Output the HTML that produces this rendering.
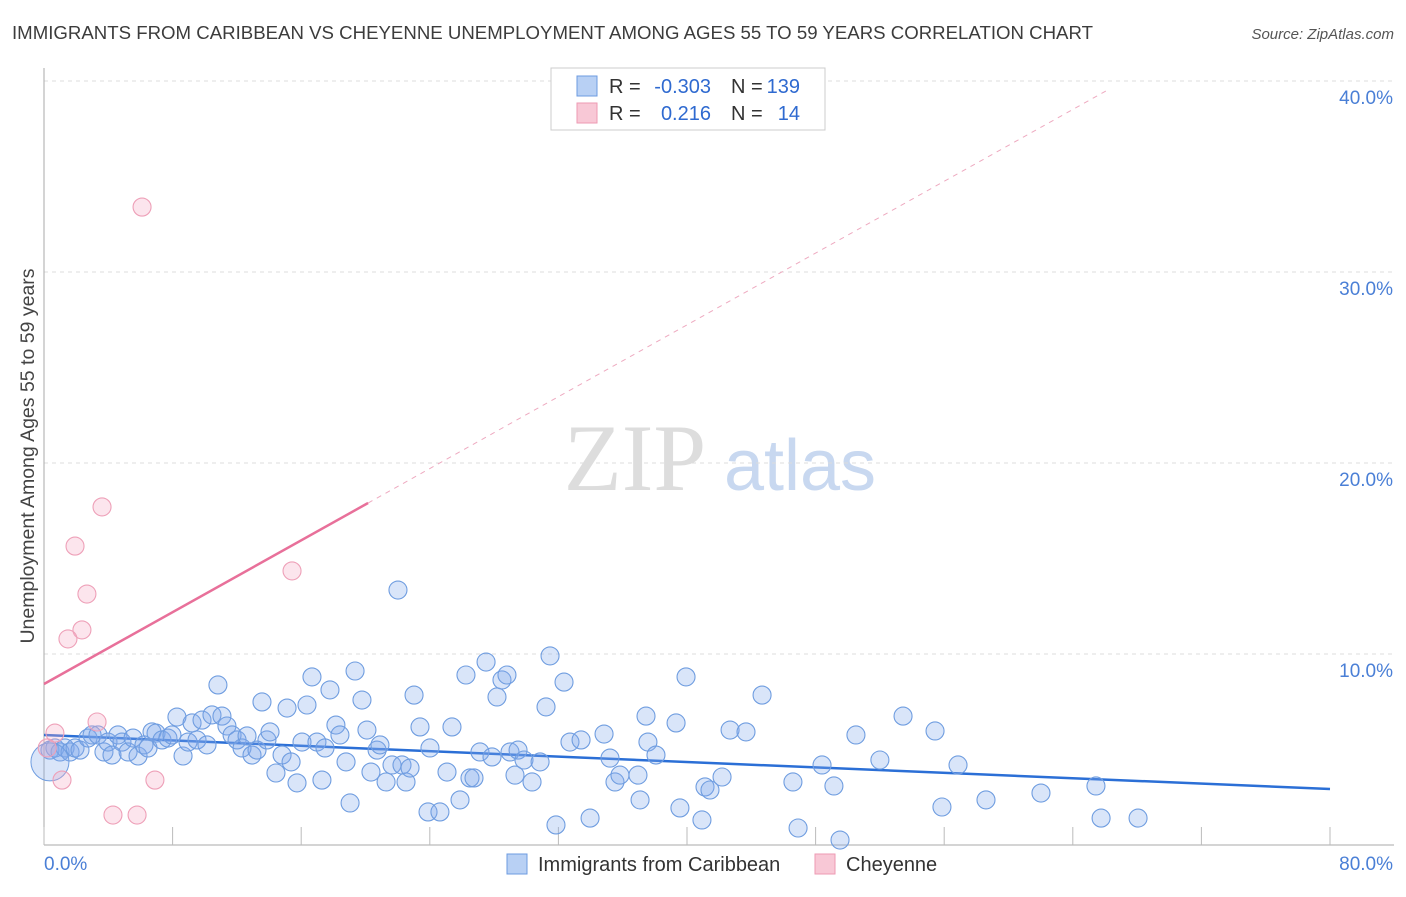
<!DOCTYPE html>
<html><head><meta charset="utf-8"><style>
body{margin:0;background:#fff;font-family:"Liberation Sans",sans-serif;}
</style></head><body>
<svg id="chart" width="1406" height="892" xmlns="http://www.w3.org/2000/svg" font-family="Liberation Sans, sans-serif">
<text x="12" y="39" font-size="18.6" fill="#3c3c3c" textLength="1081" lengthAdjust="spacingAndGlyphs">IMMIGRANTS FROM CARIBBEAN VS CHEYENNE UNEMPLOYMENT AMONG AGES 55 TO 59 YEARS CORRELATION CHART</text>
<text x="1394" y="39" font-size="15" fill="#555" text-anchor="end" font-style="italic">Source: ZipAtlas.com</text>
<text transform="translate(34,456) rotate(-90)" font-size="19.5" fill="#444" text-anchor="middle">Unemployment Among Ages 55 to 59 years</text>
<g><text x="635" y="490" font-size="95" fill="#ddd" font-family="Liberation Serif, serif" text-anchor="middle">ZIP</text><text x="800" y="490" font-size="72" fill="#c8d8f0" text-anchor="middle">atlas</text></g>
<g id="grid"></g><g id="axes"></g><g id="lines"></g><g id="pts"></g>
<g font-size="20">
<rect x="551" y="68" width="274" height="62" fill="#fff" stroke="#ccc"/>
<rect x="577" y="76" width="20" height="20" fill="#b8d0f4" stroke="#6d9be0"/>
<rect x="577" y="103" width="20" height="20" fill="#f8c8d6" stroke="#ee9ab3"/>
<text x="609" y="93" fill="#333">R =</text><text x="711" y="93" fill="#2f6ad0" text-anchor="end">-0.303</text>
<text x="731" y="93" fill="#333">N =</text><text x="800" y="93" fill="#2f6ad0" text-anchor="end">139</text>
<text x="609" y="120" fill="#333">R =</text><text x="711" y="120" fill="#2f6ad0" text-anchor="end">0.216</text>
<text x="731" y="120" fill="#333">N =</text><text x="800" y="120" fill="#2f6ad0" text-anchor="end">14</text>
</g>
<g font-size="20">
<rect x="507" y="854" width="20" height="20" fill="#b8d0f4" stroke="#6d9be0"/>
<text x="538" y="871" fill="#333">Immigrants from Caribbean</text>
<rect x="815" y="854" width="20" height="20" fill="#f8c8d6" stroke="#ee9ab3"/>
<text x="846" y="871" fill="#333">Cheyenne</text>
</g>
</svg>
<script>
const blueX=[.37,.68,1.0,1.31,1.62,1.93,2.24,2.74,2.99,3.36,3.73,3.98,4.23,4.6,4.85,5.23,5.54,5.85,6.22,6.47,6.72,6.97,7.34,7.71,7.96,8.27,8.65,8.96,9.21,9.52,9.83,10.14,10.45,10.82,11.07,11.38,11.7,12.01,12.32,12.63,12.94,13.25,13.56,13.87,14.06,14.43,14.81,15.12,15.37,15.74,16.05,16.36,16.67,16.98,17.29,17.48,17.79,18.16,18.41,18.79,19.04,19.35,19.78,20.09,20.34,20.72,20.9,21.28,21.65,22.02,22.27,22.52,22.77,23.02,23.39,23.89,24.01,24.63,25.07,25.38,25.88,26.25,26.5,26.75,27.12,27.5,27.87,28.18,28.49,28.8,28.99,29.3,29.49,29.86,30.36,30.86,31.23,31.48,31.85,32.35,32.72,33.41,33.97,34.84,35.21,35.52,35.83,36.95,37.08,37.45,37.57,38.07,39.32,39.56,39.94,40.93,41.12,41.43,42.18,42.68,43.67,44.67,46.59,46.91,48.4,49.14,49.52,50.51,52.0,53.44,55.43,55.86,56.86,58.6,62.02,65.44,65.76,68.06];
const blueY=[4.97,5.08,4.87,5.08,4.87,5.08,4.97,5.6,5.76,5.76,4.87,5.39,4.71,5.76,5.39,4.87,5.6,4.66,5.24,5.08,5.92,5.86,5.5,5.6,5.76,6.7,4.66,5.39,6.39,5.5,6.54,5.24,6.81,8.38,6.75,6.23,5.76,5.5,5.08,5.71,4.71,4.97,7.49,5.5,5.92,3.77,4.71,7.17,4.35,3.25,5.39,7.33,8.8,5.39,3.4,5.08,8.12,6.28,5.76,4.35,2.2,9.11,7.59,6.02,3.82,4.97,5.24,3.3,4.19,13.35,4.19,3.3,4.03,7.85,6.18,1.73,5.08,1.73,3.82,6.18,2.36,8.9,3.51,3.51,4.87,9.58,4.61,7.75,8.64,8.9,4.87,3.66,4.97,4.45,3.3,4.35,7.23,9.9,1.05,8.53,5.39,5.5,1.41,5.81,4.55,3.3,3.66,3.66,2.36,6.75,5.39,4.71,6.39,1.94,8.8,1.31,3.04,2.88,3.56,6.02,5.92,7.85,3.3,.89,4.19,3.09,.26,5.76,4.45,6.75,5.97,1.99,4.19,2.36,2.72,3.09,1.41,1.41];
const pinkX=[6.1,3.61,1.93,2.67,2.36,1.49,15.43,.68,3.3,1.12,6.9,4.29,5.79,.2];
const pinkY=[33.4,17.7,15.65,13.14,11.26,10.79,14.35,5.86,6.44,3.4,3.4,1.57,1.57,5.08];
const yTicks=[10,20,30,40];
const yTickLabels=["10.0%","20.0%","30.0%","40.0%"];
const xTicks=[0,8,16,24,32,40,48,56,64,72,80];
const blueTrend=[5.76,2.93];
const pinkTrend=[8.43,0.47];
const NS="http://www.w3.org/2000/svg";
const sx=v=>44+v*16.075, sy=v=>845-v*19.1;
function mk(p,t,a){const e=document.createElementNS(NS,t);for(const k in a)e.setAttribute(k,a[k]);document.getElementById(p).appendChild(e);return e;}
yTicks.forEach((t,i)=>{
 const g=mk('grid','line',{x1:44,x2:1394,y1:sy(t),y2:sy(t),stroke:'#ddd','stroke-dasharray':'4,4'});
 
 
 const l=mk('grid','text',{x:1393,y:sy(t)+23,'font-size':19,fill:'#4a7fd6','text-anchor':'end'});l.textContent=yTickLabels[i];
 
 
});
let a=mk('axes','line',{x1:44,x2:44,y1:68,y2:845,stroke:'#aaa'});


a=mk('axes','line',{x1:44,x2:1394,y1:845,y2:845,stroke:'#aaa'});


xTicks.forEach(t=>{const k=mk('axes','line',{x1:sx(t),x2:sx(t),y1:827,y2:845,stroke:'#bbb'});
 
 });
let t=mk('axes','text',{x:44,y:870,'font-size':19,fill:'#4a7fd6'});t.textContent='0.0%';


t=mk('axes','text',{x:1393,y:870,'font-size':19,fill:'#4a7fd6','text-anchor':'end'});t.textContent='80.0%';


blueX.forEach((x,i)=>{const c=mk('pts','circle',{cx:sx(x),cy:sy(blueY[i]),r:9,fill:'rgba(130,170,235,0.3)',stroke:'#6f9de0','stroke-width':1.1});
 
 });
let big=mk('pts','circle',{cx:sx(0.37),cy:sy(4.35),r:19,fill:'rgba(130,170,235,0.3)',stroke:'#6f9de0'});


pinkX.forEach((x,i)=>{const c=mk('pts','circle',{cx:sx(x),cy:sy(pinkY[i]),r:9,fill:'rgba(245,170,195,0.3)',stroke:'#eea0b8','stroke-width':1.1});
 
 });
let l=mk('lines','line',{x1:sx(0),y1:sy(blueTrend[0]),x2:sx(80),y2:sy(blueTrend[1]),stroke:'#2b6fd6','stroke-width':2.5});


const pe=20.16,pd=66.3;
l=mk('lines','line',{x1:sx(0),y1:sy(pinkTrend[0]),x2:sx(pe),y2:sy(pinkTrend[0]+pinkTrend[1]*pe),stroke:'#e8709a','stroke-width':2.5});


l=mk('lines','line',{x1:sx(pe),y1:sy(pinkTrend[0]+pinkTrend[1]*pe),x2:sx(pd),y2:sy(pinkTrend[0]+pinkTrend[1]*pd),stroke:'#eeaac0','stroke-width':1,'stroke-dasharray':'5,5'});


</script>
</body></html>
